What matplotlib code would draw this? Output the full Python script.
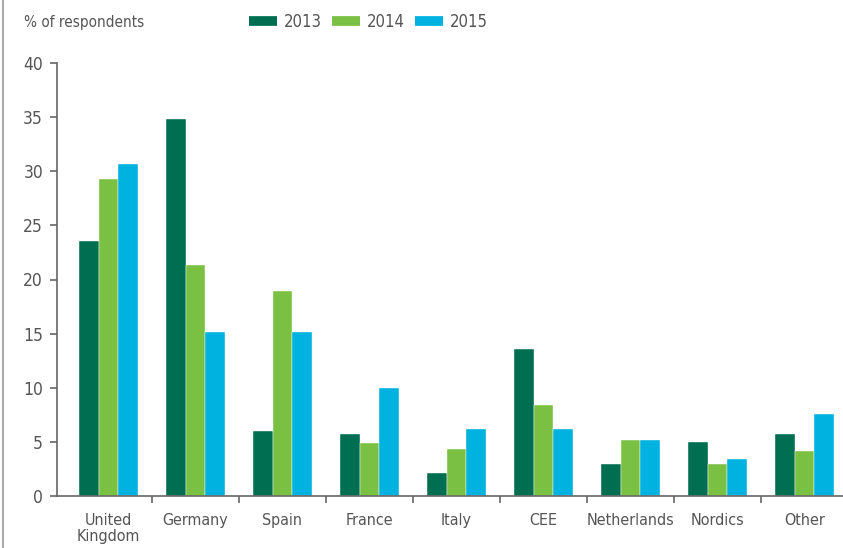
import numpy as np
import matplotlib.pyplot as plt
from matplotlib.lines import Line2D

# Share of respondents by country, three survey years
categories = ['United\nKingdom', 'Germany', 'Spain', 'France', 'Italy',
              'CEE', 'Netherlands', 'Nordics', 'Other']
years = ['2013', '2014', '2015']
v2013 = [23.6, 34.8, 6.0, 5.7, 2.1, 13.6, 3.0, 5.0, 5.7]
v2014 = [29.3, 21.3, 18.9, 4.9, 4.3, 8.4, 5.2, 3.0, 4.2]
v2015 = [30.7, 15.15, 15.15, 10.0, 6.2, 6.2, 5.2, 3.4, 7.6]
yticks = [0, 5, 10, 15, 20, 25, 30, 35, 40]

colors = ['#006f51', '#7ac143', '#00b2e0']
txt = '#555555'
plt.rcParams['font.family'] = ['DejaVu Sans']
plt.rcParams['font.stretch'] = 'condensed'

fig = plt.figure(figsize=(8.43, 5.48), dpi=100)
ax = fig.add_axes([57 / 843, 1 - 496 / 548, 1 - 57 / 843, (496 - 63) / 548])

x = np.arange(len(categories))
w = 0.224
for k, vals in enumerate([v2013, v2014, v2015]):
    ax.bar(x + (k - 1) * w, vals, w, color=colors[k], edgecolor='white',
           linewidth=0.3, zorder=2)

ax.set_ylim(0, 40)
ax.set_xlim(-0.592, 8.443)
ax.set_yticks(yticks)
ax.set_xticks(x)
ax.set_xticklabels(categories, linespacing=1.1)
ax.set_xticks(x[:-1] + 0.5, minor=True)

for s in ['top', 'right']:
    ax.spines[s].set_visible(False)
for s in ['left', 'bottom']:
    ax.spines[s].set_color('#666666')
    ax.spines[s].set_linewidth(1.2)

ax.tick_params(axis='y', which='major', length=5, width=1.2, color='#666666',
               labelsize=12.5, labelcolor=txt, pad=5)
ax.tick_params(axis='x', which='major', length=0, labelsize=11.5,
               labelcolor=txt, pad=12)
ax.tick_params(axis='x', which='minor', length=5, width=1.2, color='#666666')

fig.text(24 / 843, 1 - 22 / 548, '% of respondents', fontsize=11,
         color=txt, va='center', ha='left')

handles = [Line2D([], [], color=c, lw=7, solid_capstyle='butt') for c in colors]
fig.legend(handles, years, loc='center left', ncol=3,
           bbox_to_anchor=(249 / 843, 1 - 22 / 548), frameon=False,
           fontsize=12, labelcolor=txt, handlelength=1.7, handletextpad=0.4,
           columnspacing=0.6, borderaxespad=0, borderpad=0)

# thin frame line at the left edge
fig.add_artist(Line2D([3 / 843, 3 / 843], [0, 1], color='#aaaaaa', lw=1.5))

fig.savefig('out.png', dpi=100)
